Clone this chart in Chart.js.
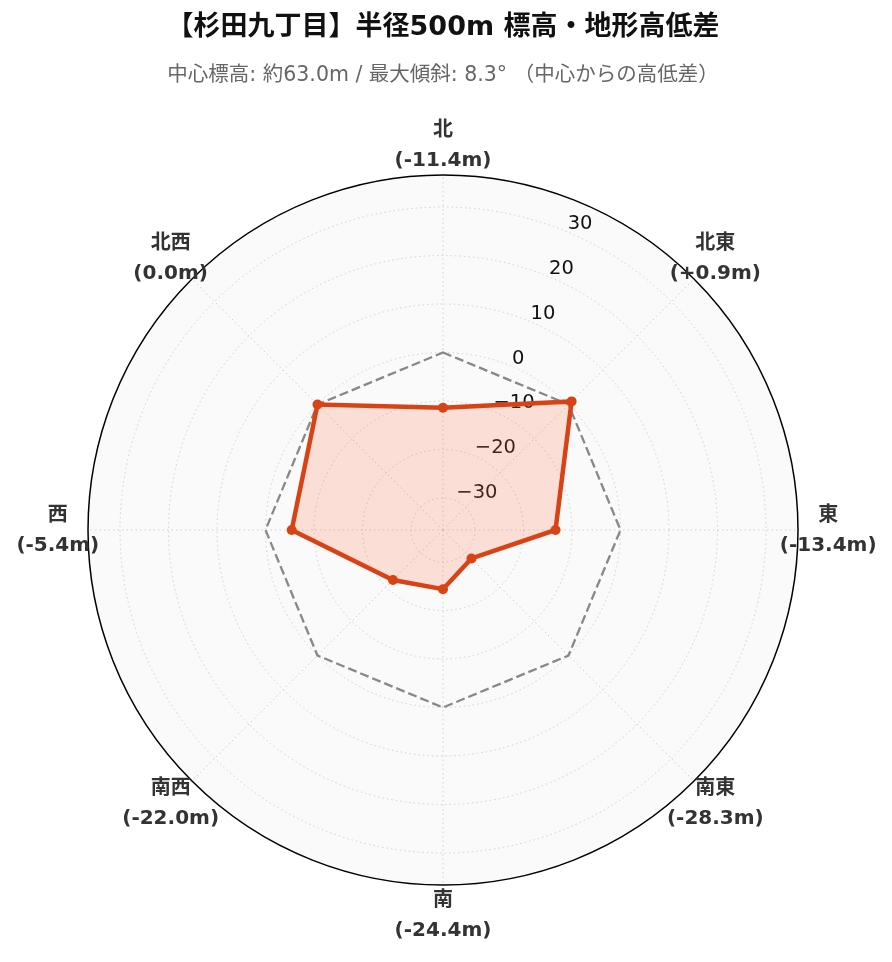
<!DOCTYPE html>
<html lang="ja">
<head>
<meta charset="utf-8">
<title>杉田九丁目 標高・地形高低差</title>
<script src="https://cdn.jsdelivr.net/npm/chart.js@4.4.1/dist/chart.umd.min.js"></script>
<style>
  html, body { margin: 0; padding: 0; background: #fff; }
  #wrap { width: 892px; height: 962px; }
</style>
</head>
<body>
<div id="wrap"><canvas id="elevChart"></canvas></div>
<script>
// 8方位の高低差（中心標高からの差, m）
const directions = ['北', '北東', '東', '南東', '南', '南西', '西', '北西'];
const elevationDiff = [-11.4, 0.9, -13.4, -28.3, -24.4, -22.0, -5.4, 0.0];
const baseline = [0, 0, 0, 0, 0, 0, 0, 0];
const radialTicks = [-30, -20, -10, 0, 10, 20, 30];
const radialMin = -36.6;
const radialMax = 36.6;

const titleText = '【杉田九丁目】半径500m 標高・地形高低差';
const subtitleText = '中心標高: 約63.0m / 最大傾斜: 8.3° （中心からの高低差）';

function fmtDiff(v) {
    if (v > 0) return '(+' + v.toFixed(1) + 'm)';
    return '(' + v.toFixed(1) + 'm)';
}

function fmtTick(v) {
    return v < 0 ? '\u2212' + Math.abs(v) : String(v);
}

// 目盛ラベル（北東寄りに斜め配置）と方位ラベルを描く
const radarLabels = {
    id: 'radarLabels',
    beforeDatasetsDraw(chart) {
        const r = chart.scales.r;
        const ctx = chart.ctx;
        const ang = Math.PI / 8;
        ctx.save();
        ctx.font = '19.5px "DejaVu Sans"';
        ctx.fillStyle = '#111';
        ctx.textAlign = 'left';
        ctx.textBaseline = 'middle';
        radialTicks.forEach(v => {
            const d = r.getDistanceFromCenterForValue(v) + 8;
            ctx.fillText(fmtTick(v), r.xCenter + d * Math.sin(ang) - 2, r.yCenter - d * Math.cos(ang));
        });
        ctx.restore();
    },
    afterDraw(chart) {
        const r = chart.scales.r;
        const ctx = chart.ctx;
        ctx.save();
        ctx.font = 'bold 20px "DejaVu Sans", "Noto Sans CJK JP"';
        ctx.fillStyle = '#333';
        ctx.textAlign = 'center';
        ctx.textBaseline = 'middle';
        directions.forEach((name, i) => {
            const p = r.getPointPosition(i, r.drawingArea * 1.085);
            ctx.fillText(name, p.x, p.y - 14);
            ctx.fillText(fmtDiff(elevationDiff[i]), p.x, p.y + 16);
        });
        ctx.restore();
    }
};

new Chart(document.getElementById('elevChart'), {
    type: 'radar',
    data: {
        labels: directions,
        datasets: [
            {
                label: '高低差',
                data: elevationDiff,
                borderColor: '#d84315',
                backgroundColor: 'rgba(255,112,67,0.2)',
                borderWidth: 4.5,
                pointRadius: 5,
                pointBackgroundColor: '#d84315',
                pointBorderWidth: 0,
                fill: 'start',
                tension: 0
            },
            {
                label: '中心 (0m)',
                data: baseline,
                borderColor: '#888',
                borderWidth: 2.3,
                borderDash: [9, 4],
                pointRadius: 0,
                fill: false
            }
        ]
    },
    options: {
        responsive: true,
        maintainAspectRatio: false,
        animation: false,
        layout: { padding: { left: 88, right: 94, top: 0, bottom: 76 } },
        plugins: {
            legend: { display: false },
            tooltip: { enabled: false },
            title: {
                display: true,
                text: titleText,
                color: '#111',
                font: { family: '"DejaVu Sans", "Noto Sans CJK JP"', size: 27, weight: 'bold' },
                padding: { top: 12, bottom: 10 }
            },
            subtitle: {
                display: true,
                text: subtitleText,
                color: '#666',
                font: { family: '"DejaVu Sans", "Noto Sans CJK JP"', size: 20.5 },
                padding: { top: 9.3, bottom: 86.7 }
            }
        },
        scales: {
            r: {
                min: radialMin,
                max: radialMax,
                backgroundColor: '#fafafa',
                ticks: { display: false, stepSize: 10 },
                pointLabels: { display: false },
                grid: {
                    circular: true,
                    color: c => c.tick.value === radialMax ? '#000' : (c.index === 0 ? 'rgba(0,0,0,0)' : '#d0d0d0'),
                    lineWidth: c => c.tick.value === radialMax ? 1.5 : 1
                },
                border: {
                    dash: c => (c.tick && c.tick.value === radialMax) ? [] : [1.5, 3]
                },
                angleLines: { color: '#d0d0d0', lineWidth: 1, borderDash: [1.5, 3] }
            }
        }
    },
    plugins: [radarLabels]
});
</script>
</body>
</html>
